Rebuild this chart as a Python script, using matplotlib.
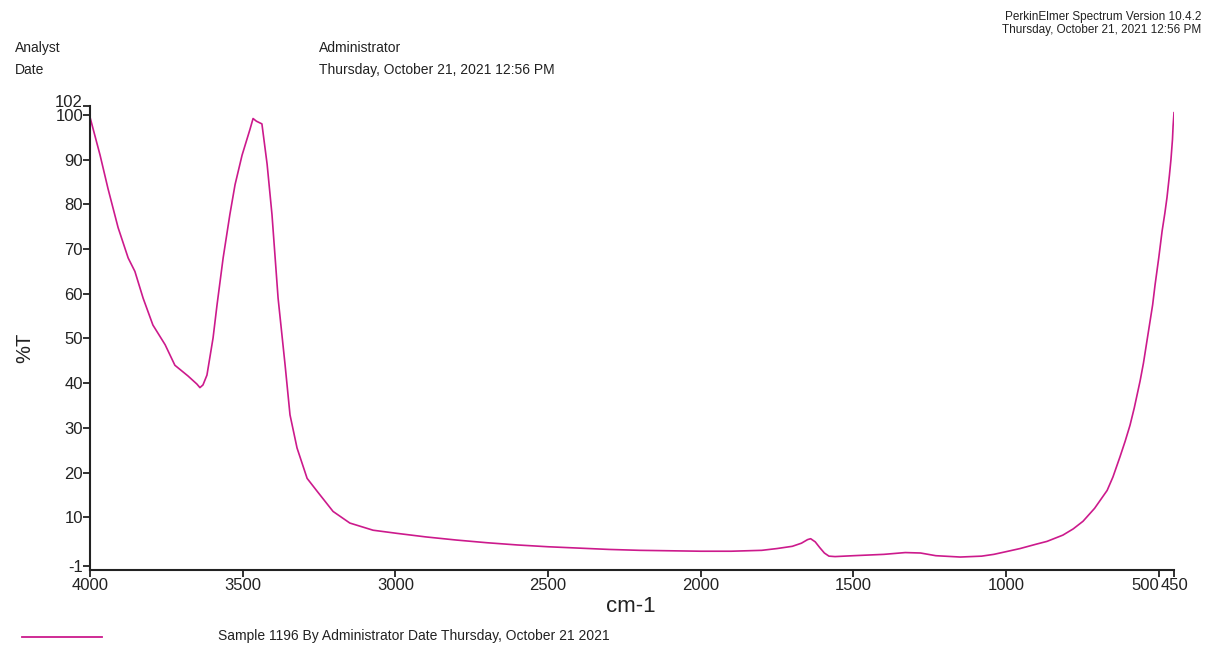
import matplotlib
matplotlib.use("Agg")
import matplotlib.pyplot as plt
from matplotlib.transforms import ScaledTranslation

plt.rcParams['font.family'] = ['Liberation Sans', 'DejaVu Sans']

# Spectrum data (wavenumber cm-1, %T)
wavenumber = [4000, 3967, 3941, 3908, 3875, 3853, 3826, 3794, 3754, 3722, 3679,
              3650, 3640, 3630, 3617, 3597, 3584, 3564, 3542, 3525, 3502, 3476,
              3466, 3455, 3437, 3420, 3404, 3384, 3361, 3345, 3322, 3289, 3256,
              3204, 3149, 3073, 2995, 2900, 2800, 2700, 2600, 2500, 2400, 2300,
              2200, 2100, 2000, 1900, 1800, 1750, 1700, 1670, 1650, 1640, 1625,
              1610, 1595, 1580, 1560, 1500, 1400, 1330, 1280, 1230, 1150, 1080,
              1040, 1000, 954, 900, 866, 814, 780, 748, 710, 669, 650, 627, 610,
              594, 580, 561, 550, 535, 520, 512, 500, 489, 480, 473, 465, 460,
              455, 453, 450]
transmittance = [99.5, 91.0, 83.5, 74.8, 68.0, 65.0, 59.0, 53.0, 48.6, 44.0, 41.6,
                 39.8, 39.0, 39.6, 41.8, 50.1, 57.5, 68.0, 77.7, 84.4, 91.0, 96.8,
                 99.2, 98.6, 98.0, 89.0, 77.7, 59.0, 44.0, 32.9, 25.5, 18.7, 15.8,
                 11.3, 8.7, 7.1, 6.4, 5.6, 4.9, 4.3, 3.8, 3.4, 3.1, 2.8,
                 2.6, 2.5, 2.4, 2.4, 2.6, 3.0, 3.5, 4.2, 5.0, 5.2, 4.5,
                 3.2, 2.0, 1.3, 1.2, 1.4, 1.7, 2.1, 2.0, 1.4, 1.1, 1.3,
                 1.7, 2.3, 3.0, 4.0, 4.6, 6.0, 7.4, 9.1, 12.0, 16.0, 19.0, 23.5, 27.0,
                 30.6, 34.5, 40.5, 44.5, 51.0, 57.5, 62.0, 68.0, 74.0, 78.0, 81.5, 86.5, 90.0,
                 94.5, 97.5, 100.5]

x_ticks = [4000, 3500, 3000, 2500, 2000, 1500, 1000, 500, 450]
y_ticks = [102, 100, 90, 80, 70, 60, 50, 40, 30, 20, 10, -1]

W, H = 1213, 648
fig = plt.figure(figsize=(W / 100, H / 100), dpi=100)
ax = fig.add_axes([90 / W, (H - 570) / H, (1174 - 90) / W, (570 - 106) / H])

ax.plot(wavenumber, transmittance, color='#cc1a8c', lw=1.2)
ax.set_xlim(4000, 450)
ax.set_ylim(-1.8, 102)
ax.set_xticks(x_ticks)
ax.set_xticklabels([str(t) for t in x_ticks])
ax.set_yticks(y_ticks)
ax.set_yticklabels([str(t) for t in y_ticks])
for s in ['top', 'right']:
    ax.spines[s].set_visible(False)
for s in ['left', 'bottom']:
    ax.spines[s].set_linewidth(1.5)
    ax.spines[s].set_color('#222222')
ax.tick_params(axis='both', direction='out', length=5, width=1.3,
               labelsize=12, colors='#222222', pad=1)
ax.tick_params(axis='y', pad=0)

# "500" label sits just left of its tick so it abuts "450"
xlabels = ax.get_xticklabels()
xlabels[7].set_horizontalalignment('right')
# "102" nudged up above "100"
ylabels = ax.get_yticklabels()
ylabels[0].set_transform(ylabels[0].get_transform() + ScaledTranslation(0, 5 / 100, fig.dpi_scale_trans))

fig.text(631 / W, 1 - 606 / H, 'cm-1', fontsize=16, ha='center', va='center', color='#222222')
fig.text(25 / W, 1 - 348 / H, '%T', fontsize=14.5, rotation=90, ha='center', va='center', color='#222222')

fig.text(15 / W, 1 - 48 / H, 'Analyst', fontsize=10, ha='left', va='center', color='#222222')
fig.text(15 / W, 1 - 70 / H, 'Date', fontsize=10, ha='left', va='center', color='#222222')
fig.text(319 / W, 1 - 48 / H, 'Administrator', fontsize=10, ha='left', va='center', color='#222222')
fig.text(319 / W, 1 - 70 / H, 'Thursday, October 21, 2021 12:56 PM', fontsize=10, ha='left', va='center', color='#222222')

fig.text(1201 / W, 1 - 17 / H, 'PerkinElmer Spectrum Version 10.4.2', fontsize=8.5, ha='right', va='center', color='#222222')
fig.text(1201 / W, 1 - 30 / H, 'Thursday, October 21, 2021 12:56 PM', fontsize=8.5, ha='right', va='center', color='#222222')

fig.add_artist(plt.Line2D([22 / W, 102 / W], [1 - 637 / H, 1 - 637 / H], color='#cc1a8c', lw=1.3))
fig.text(218 / W, 1 - 636 / H, 'Sample 1196 By Administrator Date Thursday, October 21 2021',
         fontsize=10, ha='left', va='center', color='#222222')

fig.savefig('out.png', dpi=100)
